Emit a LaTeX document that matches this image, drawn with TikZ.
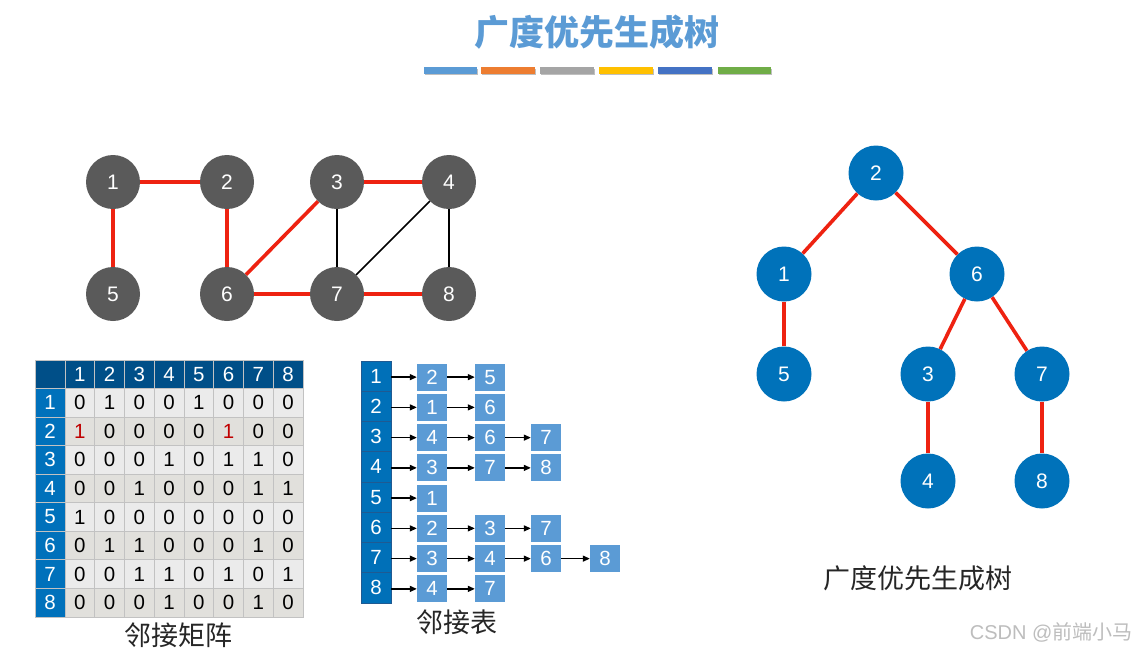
\documentclass[tikz,border=0pt]{standalone}
\usepackage{fontspec}
\setmainfont{Liberation Sans}
\newfontfamily\cjk{Noto Sans CJK SC}
\usetikzlibrary{arrows.meta}
\definecolor{titleblue}{HTML}{5B9BD5}
\definecolor{barA}{HTML}{5B9BD5}
\definecolor{barB}{HTML}{ED7D31}
\definecolor{barC}{HTML}{A5A5A5}
\definecolor{barD}{HTML}{FFC000}
\definecolor{barE}{HTML}{4472C4}
\definecolor{barF}{HTML}{70AD47}
\definecolor{gnodec}{HTML}{5A5A5A}
\definecolor{tnodec}{HTML}{0072BA}
\definecolor{edgered}{HTML}{EE2211}
\definecolor{hdrdark}{HTML}{004F88}
\definecolor{hdrblue}{HTML}{0071BB}
\definecolor{rowodd}{HTML}{EBEBEB}
\definecolor{roweven}{HTML}{E1E0DC}
\definecolor{gridc}{HTML}{C2C2C2}
\definecolor{mred}{HTML}{C00000}
\definecolor{listbox}{HTML}{5B9BD5}
\definecolor{listcol}{HTML}{0070B8}
\definecolor{listline}{HTML}{1F5A92}
\definecolor{wmark}{HTML}{BDBDBD}
\newcommand\rone{\textcolor{mred}{1}}
\begin{document}
\begin{tikzpicture}[x=1pt,y=-1pt,
  gnode/.style={circle,fill=gnodec,minimum size=54pt,inner sep=0pt,text=white,font=\fontsize{21}{23}\selectfont},
  tnode/.style={circle,fill=tnodec,minimum size=55pt,inner sep=0pt,text=white,font=\fontsize{21}{23}\selectfont},
  redline/.style={draw=edgered,line width=3.6pt},
  blackline/.style={draw=black,line width=1.6pt},
  cell/.style={inner sep=0pt,font=\fontsize{20.5}{22}\selectfont},
  lcol/.style={rectangle,fill=listcol,draw=listline,line width=0.8pt,minimum width=30pt,minimum height=30.25pt,inner sep=0pt,text=white,font=\fontsize{20.5}{22}\selectfont},
  lbox/.style={rectangle,fill=listbox,minimum width=30pt,minimum height=27pt,inner sep=0pt,text=white,font=\fontsize{20.5}{22}\selectfont},
  arr/.style={draw=black,line width=1.3pt,-{Triangle[length=7pt,width=6pt]}},
  cjklabel/.style={font=\cjk\fontsize{27}{30}\selectfont,text=black!85}
]
\useasboundingbox (0,0) rectangle (1142,651);
\fill[white] (0,0) rectangle (1142,651);

% Title
\node[font=\cjk\bfseries\fontsize{35}{40}\selectfont,text=titleblue] (title) at (597,32) {广度优先生成树};

% colour bars with shadow
\foreach \xa/\xb/\c in {424/477/barA,481/535/barB,540/594/barC,599/653/barD,658/712/barE,718/771/barF}{
  \fill[black!25] (\xa+1,68.5) rectangle (\xb+1,75);
  \fill[\c] (\xa,67) rectangle (\xb,73.5);
}

% Graph
\node[gnode] (g1) at (113,182) {1};
\node[gnode] (g2) at (227,182) {2};
\node[gnode] (g3) at (337,182) {3};
\node[gnode] (g4) at (449,182) {4};
\node[gnode] (g5) at (113,294) {5};
\node[gnode] (g6) at (227,294) {6};
\node[gnode] (g7) at (337,294) {7};
\node[gnode] (g8) at (449,294) {8};
\draw[redline] (g1) -- (g2);
\draw[redline] (g1) -- (g5);
\draw[redline] (g2) -- (g6);
\draw[redline] (g3) -- (g6);
\draw[redline] (g3) -- (g4);
\draw[redline] (g6) -- (g7);
\draw[redline] (g7) -- (g8);
\draw[blackline] (g3) -- (g7);
\draw[blackline] (g4) -- (g7);
\draw[blackline] (g4) -- (g8);

% Adjacency matrix
\fill[hdrdark] (35,360) rectangle (303,388.5);
\fill[hdrblue] (35,388.5) rectangle (65,617);
\foreach \r/\vals in {1/{0,1,0,0,1,0,0,0},2/{\rone,0,0,0,0,\rone,0,0},3/{0,0,0,1,0,1,1,0},4/{0,0,1,0,0,0,1,1},5/{1,0,0,0,0,0,0,0},6/{0,1,1,0,0,0,1,0},7/{0,0,1,1,0,1,0,1},8/{0,0,0,1,0,0,1,0}}{
  \pgfmathsetmacro\yt{388.5+28.5625*(\r-1)}
  \pgfmathsetmacro\yc{\yt+14.28}
  \pgfmathtruncatemacro\rowpar{mod(\r,2)}
  \ifnum\rowpar=1 \fill[rowodd] (65,\yt) rectangle (303,\yt+28.5625); \else \fill[roweven] (65,\yt) rectangle (303,\yt+28.5625); \fi
  \node[cell,text=white] (rh-\r) at (50,\yc) {\r};
  \foreach \v [count=\c] in \vals {
    \node[cell] (m-\r-\c) at ({65+29.75*(\c-0.5)},\yc) {\v};
  }
}
\foreach \c in {1,...,8}{
  \node[cell,text=white] (h-\c) at ({65+29.75*(\c-0.5)},374.25) {\c};
}
\foreach \k in {0,...,8}{
  \draw[gridc,line width=0.8pt] ({65+29.75*\k},360) -- ({65+29.75*\k},617);
}
\foreach \k in {0,...,8}{
  \draw[gridc,line width=0.8pt] (35,{388.5+28.5625*\k}) -- (303,{388.5+28.5625*\k});
}
\draw[gridc,line width=0.8pt] (35,360) rectangle (303,617);
\node[cjklabel] (mlabel) at (178,635) {邻接矩阵};

% Adjacency list
\foreach \r in {1,...,8}{
  \node[lcol] (l\r) at (376,{361+30.25*(\r-0.5)}) {\r};
}
\foreach \r/\vals in {1/{2,5},2/{1,6},3/{4,6,7},4/{3,7,8},5/{1},6/{2,3,7},7/{3,4,6,8},8/{4,7}}{
  \foreach \v [count=\k] in \vals {
    \ifcase\k\or\def\bx{432}\or\def\bx{490}\or\def\bx{546}\or\def\bx{605}\fi
    \node[lbox] (b\r-\k) at (\bx,{361+30.25*(\r-0.5)+1}) {\v};
  }
}
\draw[arr] (l1.east |- b1-1) -- (b1-1.west); \draw[arr] (b1-1) -- (b1-2);
\draw[arr] (l2.east |- b2-1) -- (b2-1.west); \draw[arr] (b2-1) -- (b2-2);
\draw[arr] (l3.east |- b3-1) -- (b3-1.west); \draw[arr] (b3-1) -- (b3-2); \draw[arr] (b3-2) -- (b3-3);
\draw[arr] (l4.east |- b4-1) -- (b4-1.west); \draw[arr] (b4-1) -- (b4-2); \draw[arr] (b4-2) -- (b4-3);
\draw[arr] (l5.east |- b5-1) -- (b5-1.west);
\draw[arr] (l6.east |- b6-1) -- (b6-1.west); \draw[arr] (b6-1) -- (b6-2); \draw[arr] (b6-2) -- (b6-3);
\draw[arr] (l7.east |- b7-1) -- (b7-1.west); \draw[arr] (b7-1) -- (b7-2); \draw[arr] (b7-2) -- (b7-3); \draw[arr] (b7-3) -- (b7-4);
\draw[arr] (l8.east |- b8-1) -- (b8-1.west); \draw[arr] (b8-1) -- (b8-2);
\node[cjklabel] (llabel) at (457,622) {邻接表};

% BFS spanning tree
\node[tnode] (t2) at (876,173) {2};
\node[tnode] (t1) at (784,274) {1};
\node[tnode] (t6) at (977,274) {6};
\node[tnode] (t5) at (784,374) {5};
\node[tnode] (t3) at (928,374) {3};
\node[tnode] (t7) at (1042,374) {7};
\node[tnode] (t4) at (928,481) {4};
\node[tnode] (t8) at (1042,481) {8};
\draw[redline] (t2) -- (t1);
\draw[redline] (t2) -- (t6);
\draw[redline] (t1) -- (t5);
\draw[redline] (t6) -- (t3);
\draw[redline] (t6) -- (t7);
\draw[redline] (t3) -- (t4);
\draw[redline] (t7) -- (t8);
\node[cjklabel] (tlabel) at (918,578) {广度优先生成树};

% watermark
\node[text=wmark,font=\fontsize{20}{22}\selectfont,anchor=east] (wm) at (1136,632) {CSDN @{\cjk 前端小马}};
\end{tikzpicture}
\end{document}
